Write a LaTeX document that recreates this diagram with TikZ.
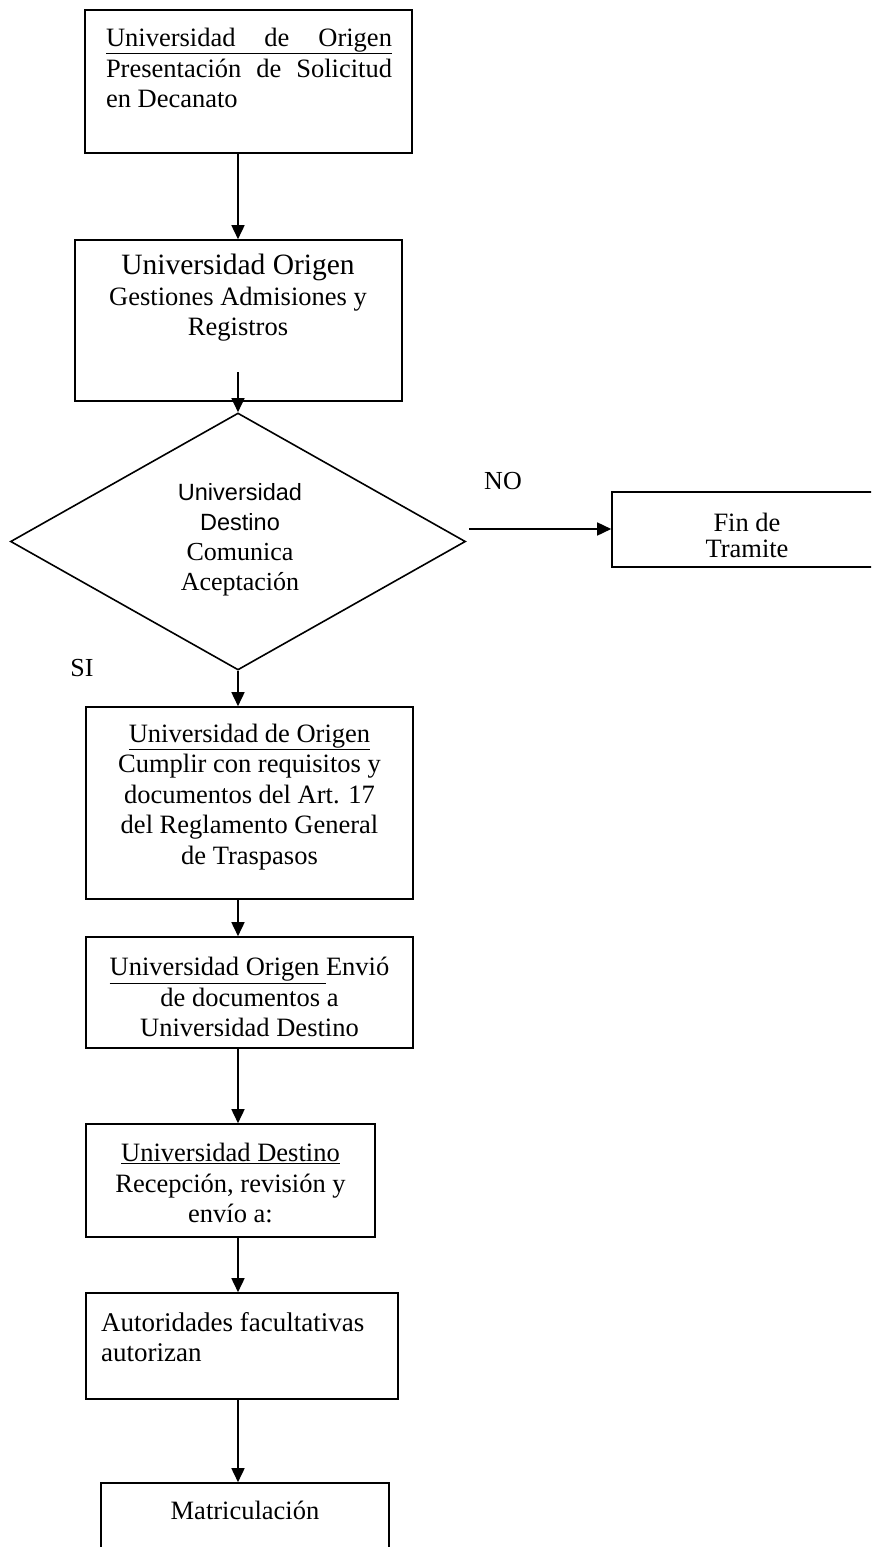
\documentclass[tikz,border=0pt]{standalone}
\usepackage{fontspec}
\setmainfont{Liberation Serif}
\newfontfamily\arialf{Liberation Sans}
\usetikzlibrary{arrows.meta,shapes.geometric}
\newcommand{\dsans}[1]{{\arialf\fontsize{23.5}{26}\selectfont #1}}
\begin{document}
\begin{tikzpicture}[x=1pt,y=-1pt,
  box/.style={draw, line width=1.6pt, inner sep=0pt},
  txt/.style={inner sep=0pt, align=center, font=\fontsize{26.5}{30.5}\selectfont},
  lbl/.style={inner sep=0pt, font=\fontsize{26}{28}\selectfont},
  arr/.style={line width=1.6pt, -{Triangle[length=14pt,width=13pt]}}]
\useasboundingbox (0,0) rectangle (871,1547);
\clip (0,0) rectangle (871,1547);
\coordinate (ax) at (238,0);
% boxes
\node[box, minimum width=327pt, minimum height=143pt] (b1) at (248.5,81.5) {};
\node[box, minimum width=327pt, minimum height=161pt] (b2) at (238.5,320.5) {};
\node[box, diamond, minimum width=455pt, minimum height=257pt] (d) at (238,541.5) {};
\node[box, minimum width=288pt, minimum height=75pt] (fin) at (756,529.5) {};
\node[box, minimum width=327pt, minimum height=192pt] (b3) at (249.5,803) {};
\node[box, minimum width=327pt, minimum height=111pt] (b4) at (249.5,992.5) {};
\node[box, minimum width=289pt, minimum height=113pt] (b5) at (230.5,1180.5) {};
\node[box, minimum width=312pt, minimum height=106pt] (b6) at (242,1346) {};
\node[box, minimum width=288pt, minimum height=87pt] (b7) at (245,1526.5) {};
% texts
\node[txt, align=left] (t1) at (249,68) {\underline{\makebox[286pt][s]{Universidad de Origen}}\\
  \makebox[286pt][s]{Presentación de Solicitud}\\ en Decanato};
\node[txt] (t2) at (238,298) {{\fontsize{29.5}{31}\selectfont Universidad Origen}\\ Gestiones Admisiones y\\ Registros};
\node[txt, font=\fontsize{26}{30}\selectfont] (td) at (240,540) {\dsans{Universidad}\\ \dsans{Destino}\\ Comunica\\ Aceptación};
\node[txt, font=\fontsize{26.5}{26}\selectfont] (tf) at (747,535) {Fin de\\ Tramite};
\node[txt] (t3) at (249.5,797) {\underline{Universidad de Origen}\\ Cumplir con requisitos y\\ documentos del Art. 17\\ del Reglamento General\\ de Traspasos};
\node[txt] (t4) at (249.5,997) {\underline{Universidad Origen }Envió\\ de documentos a\\ Universidad Destino};
\node[txt] (t5) at (230.5,1183) {\underline{Universidad Destino}\\ Recepción, revisión y\\ envío a:};
\node[txt, align=left, anchor=west, font=\fontsize{27}{30.5}\selectfont] (t6) at (101,1337) {Autoridades facultativas\\ autorizan};
\node[txt] (t7) at (245,1510) {Matriculación};
\node[lbl] (no) at (503,481) {NO};
\node[lbl] (si) at (82,668) {SI};
% connectors
\draw[arr] (ax |- b1.south) -- (ax |- b2.north);
\coordinate (a2s) at (238,372);
\draw[arr] (a2s) -- (d.north);
\coordinate (nos) at (469,529);
\draw[arr] (nos) -- (nos -| fin.west);
\draw[arr] (d.south) -- (ax |- b3.north);
\draw[arr] (ax |- b3.south) -- (ax |- b4.north);
\draw[arr] (ax |- b4.south) -- (ax |- b5.north);
\draw[arr] (ax |- b5.south) -- (ax |- b6.north);
\draw[arr] (ax |- b6.south) -- (ax |- b7.north);
\end{tikzpicture}
\end{document}
